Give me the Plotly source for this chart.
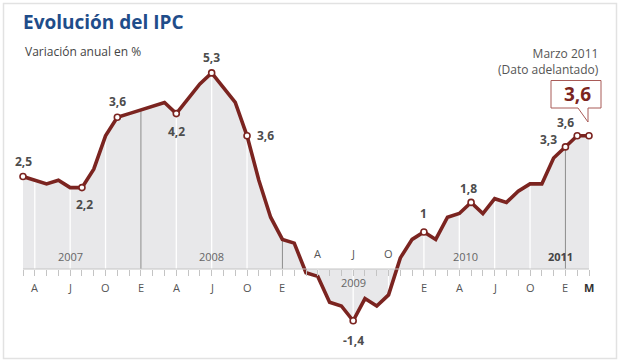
import plotly.graph_objects as go
import pandas as pd

# ---------------- data ----------------
months = [d.strftime("%Y-%m") for d in pd.date_range("2007-03-01", "2011-03-01", freq="MS")]
ipc = [2.5, 2.4, 2.3, 2.4, 2.2, 2.2, 2.7, 3.6, 4.1, 4.2,
       4.3, 4.4, 4.5, 4.2, 4.6, 5.0, 5.3, 4.9, 4.5, 3.6, 2.4, 1.4,
       0.8, 0.7, -0.1, -0.2, -0.9, -1.0, -1.4, -0.8, -1.0, -0.7, 0.3, 0.8,
       1.0, 0.8, 1.4, 1.5, 1.8, 1.5, 1.9, 1.8, 2.1, 2.3, 2.3, 3.0,
       3.3, 3.6, 3.6]
month_letters = {1: "E", 4: "A", 7: "J", 10: "O"}
years = ["2007", "2008", "2009", "2010", "2011"]
year_label_pos = [4, 16, 28, 37.5, 45.6]
# labelled points: (month, text)
labelled = [("2007-03", "2,5"), ("2007-08", "2,2"), ("2007-11", "3,6"),
            ("2008-04", "4,2"), ("2008-07", "5,3"), ("2008-10", "3,6"),
            ("2009-07", "-1,4"), ("2010-01", "1"), ("2010-05", "1,8"),
            ("2011-01", "3,3"), ("2011-02", "3,6"), ("2011-03", "")]
label_offsets = {"2007-03": (0, 15), "2007-08": (3, -17), "2007-11": (0, 16),
                 "2008-04": (0, -18), "2008-07": (0, 15), "2008-10": (18, 0),
                 "2009-07": (0, -20), "2010-01": (0, 19), "2010-05": (-3, 14),
                 "2011-01": (-17, 7), "2011-02": (-12, 13), "2011-03": (0, 0)}
highlight_value = "3,6"

# ---------------- geometry ----------------
W, H = 620, 364
L, R, T, B = 23, 31, 66, 36
YMIN, YMAX = -59 / 37, 203 / 37
n = len(ipc)
x = list(range(n))
idx = {m: i for i, m in enumerate(months)}
mnum = [int(m[5:]) for m in months]

def px(xp):
    return (xp - L) / (W - L - R)

def py(yp):
    return (H - B - yp) / (H - T - B)

RED = "#7b2420"
FILL = "#e8e8ea"

fig = go.Figure()

# filled area
fig.add_trace(go.Scatter(x=x, y=ipc, mode="lines", line=dict(width=0),
                         fill="tozeroy", fillcolor=FILL, hoverinfo="skip"))

# vertical guide lines
wx, wy, gx, gy = [], [], [], []
for i, m in enumerate(months):
    if mnum[i] in (4, 7, 10) or m == "2010-01":
        wx += [i, i, None]; wy += [0, ipc[i], None]
    elif mnum[i] == 1:
        gx += [i, i, None]; gy += [0, ipc[i], None]
fig.add_trace(go.Scatter(x=wx, y=wy, mode="lines", line=dict(color="white", width=1.3),
                         hoverinfo="skip"))
fig.add_trace(go.Scatter(x=gx, y=gy, mode="lines", line=dict(color="#8c8c8c", width=1),
                         hoverinfo="skip"))

# main line
fig.add_trace(go.Scatter(x=x, y=ipc, mode="lines", line=dict(color=RED, width=3.6),
                         cliponaxis=False, hoverinfo="skip"))
# markers
lx = [idx[m] for m, _ in labelled]
ly = [ipc[idx[m]] for m, _ in labelled]
fig.add_trace(go.Scatter(x=lx, y=ly, mode="markers", cliponaxis=False,
                         marker=dict(size=6, color="white", line=dict(color=RED, width=1.6)),
                         hoverinfo="skip"))

# x axis at zero with monthly ticks (free axis)
zero_pos = (0 - YMIN) / (YMAX - YMIN)
fig.add_trace(go.Scatter(x=[0, n - 1], y=[0, 0], xaxis="x2", mode="lines",
                         line=dict(color="#c4c4c4", width=1), hoverinfo="skip"))

annotations = []
for i in range(n):
    letter = month_letters.get(mnum[i])
    if i == n - 1:
        annotations.append(dict(x=i, y=0, text="<b>M</b>", showarrow=False, yshift=-18,
                                font=dict(size=11, color="#333")))
    elif letter:
        above = months[i][:4] == "2009" and mnum[i] != 1
        annotations.append(dict(x=i, y=0, text=letter, showarrow=False,
                                yshift=16 if above else -18,
                                font=dict(size=11, color="#555")))
for yr, pos in zip(years, year_label_pos):
    below = yr == "2009"
    txt = f"<b>{yr}</b>" if yr == "2011" else yr
    annotations.append(dict(x=pos, y=0, text=txt, showarrow=False,
                            yshift=-13 if below else 13,
                            font=dict(size=11, color="#444" if yr == "2011" else "#666")))
for m, t in labelled:
    if not t:
        continue
    dx, dy = label_offsets[m]
    annotations.append(dict(x=idx[m], y=ipc[idx[m]], text=f"<b>{t}</b>", showarrow=False,
                            xshift=dx, yshift=dy, font=dict(size=12, color="#4d4d4d")))

# titles
annotations += [
    dict(xref="paper", yref="paper", x=px(21), y=py(22), xanchor="left", yanchor="middle",
         text="<b>Evolución del IPC</b>", showarrow=False,
         font=dict(size=19, color="#1f4d8a", family="Open Sans")),
    dict(xref="paper", yref="paper", x=px(23), y=py(51), xanchor="left", yanchor="middle",
         text="Variación anual en %", showarrow=False,
         font=dict(size=12, color="#444")),
    dict(xref="paper", yref="paper", x=px(601), y=py(61.5), xanchor="right", yanchor="middle",
         text="Marzo 2011<br>(Dato adelantado)", align="right", showarrow=False,
         font=dict(size=12, color="#555")),
    dict(xref="paper", yref="paper", x=px(577), y=py(93.5), xanchor="center", yanchor="middle",
         text=f"<b>{highlight_value}</b>", showarrow=False,
         font=dict(size=19, color=RED)),
]

shapes = [
    dict(type="rect", xref="paper", yref="paper", x0=px(3.5), x1=px(616.5),
         y0=py(358.5), y1=py(3.5), line=dict(color="#e2e2e2", width=1.5),
         fillcolor="rgba(0,0,0,0)", layer="below"),
    dict(type="path", xref="paper", yref="paper",
         path=(f"M {px(551)},{py(80.5)} L {px(601)},{py(80.5)} L {px(601)},{py(108)} "
               f"L {px(588)},{py(108)} L {px(588)},{py(122)} L {px(578)},{py(108)} "
               f"L {px(551)},{py(108)} Z"),
         line=dict(color="#a85a57", width=1), fillcolor="white"),
]

fig.update_layout(
    width=W, height=H, margin=dict(l=L, r=R, t=T, b=B, pad=0),
    paper_bgcolor="white", plot_bgcolor="rgba(0,0,0,0)",
    showlegend=False,
    font=dict(family="Open Sans", color="#444"),
    xaxis=dict(range=[0, n - 1], visible=False, fixedrange=True),
    xaxis2=dict(range=[0, n - 1], overlaying="x", anchor="free", position=zero_pos,
                side="bottom", showline=False, showgrid=False, zeroline=False,
                ticks="outside", ticklen=6, tickcolor="#c4c4c4", tickwidth=1,
                tick0=0, dtick=1, showticklabels=False),
    yaxis=dict(range=[YMIN, YMAX], visible=False, fixedrange=True),
    annotations=annotations, shapes=shapes,
)

fig.write_html("out.html", config={"displayModeBar": False},
               post_script="document.body.style.margin='0';document.body.style.overflow='hidden';")
